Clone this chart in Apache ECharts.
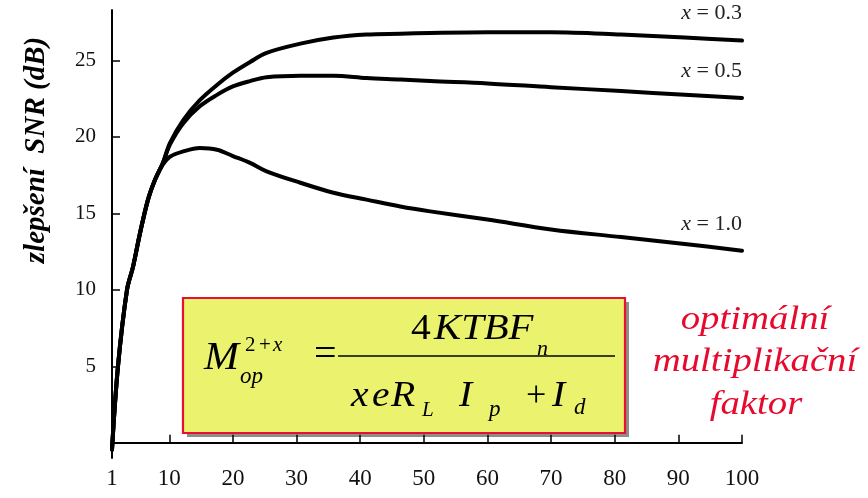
<!DOCTYPE html>
<html>
<head>
<meta charset="utf-8">
<script src="https://cdn.jsdelivr.net/npm/echarts@6/dist/echarts.min.js"></script>
<style>html,body{margin:0;padding:0;background:#fff;}#c{width:868px;height:498px;}</style>
</head>
<body>
<div id="c"></div>
<script>
// gain M (x axis)
const gain = [1, 1.94, 3.36, 4.3, 5.4, 6.66, 7.76, 9, 10.1, 12.2, 14.8, 17.5, 20, 22.7, 25.3, 30.6, 35.8, 41, 46.3, 51, 60, 70, 81, 91, 100];
// SNR improvement (dB) for x = 0.3, 0.5, 1.0
const snrX03 = [-0.45, 5.0, 10.0, 11.5, 13.7, 15.9, 17.2, 18.3, 19.6, 21.1, 22.4, 23.4, 24.2, 24.9, 25.5, 26.1, 26.5, 26.7, 26.75, 26.8, 26.85, 26.85, 26.7, 26.5, 26.3];
const snrX05 = [-0.45, 5.0, 10.0, 11.5, 13.7, 15.9, 17.2, 18.3, 19.5, 20.9, 22.0, 22.75, 23.3, 23.65, 23.9, 24.0, 24.0, 23.85, 23.75, 23.65, 23.5, 23.25, 23.0, 22.75, 22.55];
const snrX10 = [-0.45, 5.0, 10.0, 11.5, 13.7, 15.9, 17.2, 18.2, 18.7, 19.05, 19.27, 19.16, 18.75, 18.3, 17.75, 17.0, 16.35, 15.9, 15.45, 15.13, 14.6, 13.95, 13.45, 13.0, 12.55];
const seriesLabels = ['0.3', '0.5', '1.0'];
const xTicks = [1, 10, 20, 30, 40, 50, 60, 70, 80, 90, 100];
const yTicks = [5, 10, 15, 20, 25];
const yAxisTitle = 'zlepšení  SNR (dB)';
const noteLines = ['optimální', 'multiplikační', 'faktor'];

const SERIF = '"Liberation Serif", "DejaVu Serif", serif';
const chart = echarts.init(document.getElementById('c'), null, {renderer: 'canvas'});

function mkSeries(vals, lab) {
  return {
    type: 'line',
    data: gain.map((g, i) => [g, vals[i]]),
    smooth: 0.35,
    symbol: 'none',
    lineStyle: {color: '#000', width: 4, cap: 'round', join: 'round'},
    endLabel: {
      show: true,
      formatter: '{i|x} = ' + lab,
      align: 'right',
      verticalAlign: 'bottom',
      distance: 0,
      offset: [0, -16],
      color: '#222',
      fontFamily: SERIF,
      fontSize: 22,
      rich: {i: {fontStyle: 'italic', fontFamily: SERIF, fontSize: 22, color: '#222'}}
    },
    silent: true
  };
}

const txt = (x, y, text, font, extra, sx) => ({
  type: 'text', x: x, y: y, scaleX: sx || 1,
  style: Object.assign({text: text, font: font, fill: '#000', align: 'left', textAlign: 'left', verticalAlign: 'middle', textVerticalAlign: 'middle'}, extra || {})
});

const it = (s) => 'italic ' + s + 'px ' + SERIF;
const up = (s) => s + 'px ' + SERIF;
const RED = '#E60A2E';
const redStyle = {fill: RED, align: 'center', textAlign: 'center'};

chart.setOption({
  animation: false,
  backgroundColor: '#fff',
  grid: {left: 112, right: 126, top: 10, bottom: 40, containLabel: false},
  xAxis: {
    type: 'value', min: 1, max: 100,
    axisLine: {lineStyle: {color: '#000', width: 2}},
    axisTick: {inside: true, length: 8, lineStyle: {color: '#000', width: 1.5}, customValues: xTicks.slice(1)},
    axisLabel: {customValues: xTicks, color: '#111', fontFamily: SERIF, fontSize: 23, margin: 9},
    splitLine: {show: false}
  },
  yAxis: {
    type: 'value', min: -1, max: 28.3,
    axisLine: {show: true, lineStyle: {color: '#000', width: 2}},
    axisTick: {show: true, inside: true, length: 8, lineStyle: {color: '#000', width: 1.5}, customValues: yTicks},
    axisLabel: {customValues: yTicks, color: '#111', fontFamily: SERIF, fontSize: 21, margin: 16},
    splitLine: {show: false}
  },
  series: [mkSeries(snrX03, seriesLabels[0]), mkSeries(snrX05, seriesLabels[1]), mkSeries(snrX10, seriesLabels[2])],
  graphic: [
    {type: 'text', x: 37, y: 150, rotation: Math.PI / 2,
     style: {text: yAxisTitle, font: 'italic bold 29px ' + SERIF, fill: '#000', align: 'center', textAlign: 'center', verticalAlign: 'middle', textVerticalAlign: 'middle'}},
    {type: 'rect', shape: {x: 187, y: 302, width: 442, height: 135}, style: {fill: '#8e8e8e'}},
    {type: 'rect', shape: {x: 183, y: 298, width: 442, height: 135},
     style: {fill: '#EAF26E', stroke: '#E8102E', lineWidth: 2.2}},
    txt(204, 358, 'M', it(40), null, 1.05),
    txt(245, 345, '2', up(21)),
    txt(259, 345, '+', up(21)),
    txt(273, 345, 'x', it(21)),
    txt(240, 377, 'op', it(23)),
    txt(314, 355, '=', up(40)),
    {type: 'line', shape: {x1: 338, y1: 356, x2: 615, y2: 356}, style: {stroke: '#000', lineWidth: 1.5}},
    txt(411, 330, '4', up(36), null, 1.1),
    txt(434, 330, 'KTBF', it(36), null, 1.13),
    txt(537, 349, 'n', it(22)),
    txt(351, 397, 'x', it(36), null, 1.1),
    txt(372, 397, 'e', it(36), null, 1.1),
    txt(391, 397, 'R', it(36), null, 1.1),
    txt(422, 410, 'L', it(21)),
    txt(459, 397, 'I', it(36), null, 1.1),
    txt(489, 410, 'p', it(23)),
    txt(526, 397, '+', up(36)),
    txt(552, 397, 'I', it(36), null, 1.1),
    txt(574, 408, 'd', it(23)),
    txt(755, 320, noteLines[0], it(34), redStyle, 1.14),
    txt(755, 362, noteLines[1], it(34), redStyle, 1.14),
    txt(756, 405, noteLines[2], it(34), redStyle, 1.14)
  ]
});
</script>
</body>
</html>
